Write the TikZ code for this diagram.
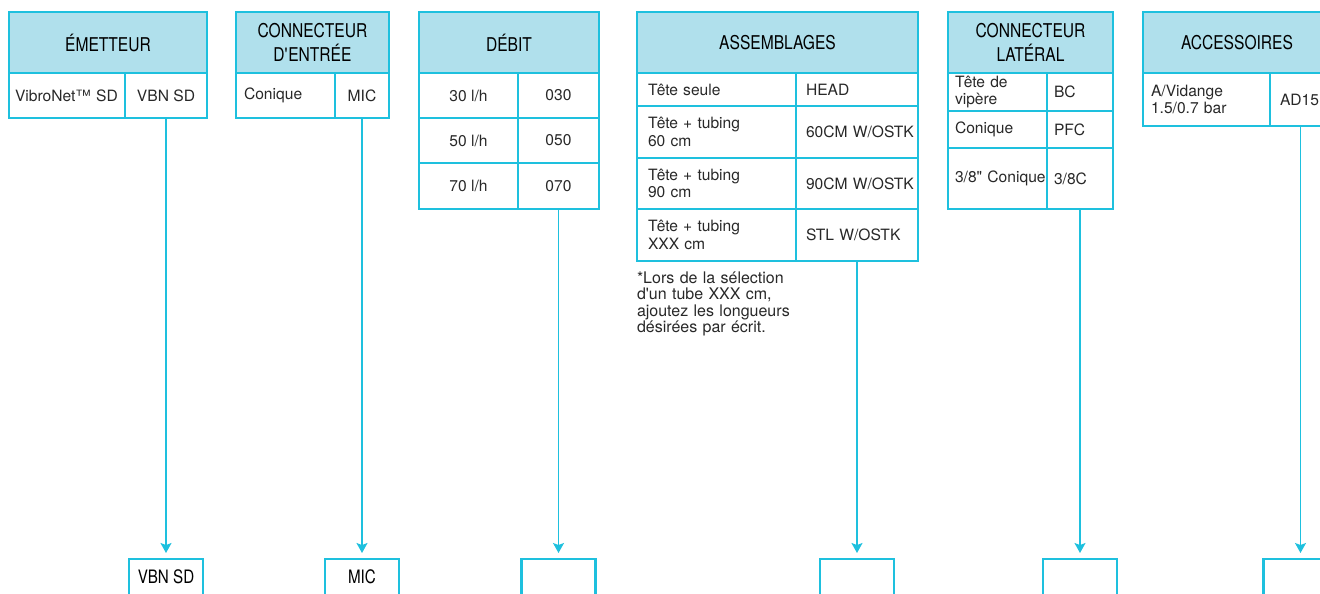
\documentclass[tikz,border=0pt]{standalone}
\usepackage{fontspec}
\setmainfont{TeX Gyre Heros}
\newfontfamily\headfont[FakeStretch=0.82]{TeX Gyre Heros}
\usetikzlibrary{arrows.meta}
\definecolor{vcyan}{RGB}{30,192,222}
\definecolor{vhead}{RGB}{176,224,236}
\definecolor{vtext}{RGB}{40,40,40}
\tikzset{
	every node/.style={inner sep=0pt,outer sep=0pt,text=vtext,font=\fontsize{15.6}{17.5}\selectfont},
	head/.style 2 args={draw=vcyan,fill=vhead,line width=1.4pt,anchor=north west,minimum width=#1,minimum height=#2,align=center,text=black,font=\headfont\fontsize{19}{23.5}\selectfont},
	cell/.style 2 args={draw=vcyan,line width=1.4pt,anchor=north west,minimum width=#1,minimum height=#2,align=center},
	lcell/.style n args={3}{cell={#1}{#2},text width=#3,align=left},
	target/.style={draw=vcyan,line width=2.6pt,anchor=north,minimum width=74pt,text height=24pt,text depth=20pt,text=black,font=\headfont\fontsize{18.5}{20}\selectfont},
	link/.style={draw=vcyan,line width=1.2pt,-{Stealth[length=10pt,width=11pt,inset=2pt]},shorten >=6pt}
	}
\begin{document}
\begin{tikzpicture}[x=1pt,y=-1pt]
	\useasboundingbox (0,0) rectangle (1320,594);
	\clip (0,0) rectangle (1320,594);
	% emetteur
	\node[head={198pt}{61pt}] (emH) at (9,12) {ÉMETTEUR};
	\node[lcell={116pt}{45pt}{104pt}] (emL) at (9,73) {VibroNet™ SD};
	\node[cell={82pt}{45pt}] (emR) at (125,73) {VBN SD};
	% connecteur d'entree
	\node[head={153pt}{61pt}] (ceH) at (236,12) {CONNECTEUR\\D\textquotesingle ENTRÉE};
	\node[lcell={99pt}{45pt}{83pt}] (ceL) at (236,73) {Conique};
	\node[cell={54pt}{45pt}] (ceR) at (335,73) {MIC};
	% debit
	\node[head={180pt}{61pt}] (dbH) at (419,12) {DÉBIT};
	\node[cell={99pt}{45pt}] (db1L) at (419,73) {30 l/h};
	\node[cell={81pt}{45pt}] (db1R) at (518,73) {030};
	\node[cell={99pt}{45pt}] (db2L) at (419,118) {50 l/h};
	\node[cell={81pt}{45pt}] (db2R) at (518,118) {050};
	\node[cell={99pt}{46pt}] (db3L) at (419,163) {70 l/h};
	\node[cell={81pt}{46pt}] (db3R) at (518,163) {070};
	% assemblages
	\node[head={281pt}{61pt}] (asH) at (637,12) {ASSEMBLAGES};
	\node[lcell={159pt}{33pt}{137pt}] (as1L) at (637,73) {Tête seule};
	\node[lcell={122pt}{33pt}{102pt}] (as1R) at (796,73) {HEAD};
	\node[lcell={159pt}{52pt}{137pt}] (as2L) at (637,106) {Tête + tubing\\60 cm};
	\node[lcell={122pt}{52pt}{102pt}] (as2R) at (796,106) {60CM~W/OSTK};
	\node[lcell={159pt}{51pt}{137pt}] (as3L) at (637,158) {Tête + tubing\\90 cm};
	\node[lcell={122pt}{51pt}{102pt}] (as3R) at (796,158) {90CM~W/OSTK};
	\node[lcell={159pt}{52pt}{137pt}] (as4L) at (637,209) {Tête + tubing\\XXX cm};
	\node[lcell={122pt}{52pt}{102pt}] (as4R) at (796,209) {STL~W/OSTK};
	\node[anchor=base west,text width=180pt,align=left,font=\fontsize{16}{16.5}\selectfont] (asNote) at (637,283)
		{*Lors de la sélection\\d\textquotesingle un tube XXX cm,\\ajoutez les longueurs\\désirées par écrit.};
	% connecteur lateral
	\node[head={165pt}{61pt}] (clH) at (948,12) {CONNECTEUR\\LATÉRAL};
	\node[lcell={99pt}{38pt}{85pt}] (cl1L) at (948,73) {Tête de\\vipère};
	\node[lcell={66pt}{38pt}{52pt}] (cl1R) at (1047,73) {BC};
	\node[lcell={99pt}{37pt}{85pt}] (cl2L) at (948,111) {Conique};
	\node[lcell={66pt}{37pt}{52pt}] (cl2R) at (1047,111) {PFC};
	\node[lcell={99pt}{61pt}{85pt}] (cl3L) at (948,148) {3/8\textquotedbl~Conique};
	\node[lcell={66pt}{61pt}{52pt}] (cl3R) at (1047,148) {3/8C};
	% accessoires
	\node[head={188pt}{61pt}] (acH) at (1143,12) {ACCESSOIRES};
	\node[lcell={127pt}{53pt}{111pt}] (acL) at (1143,73) {A/Vidange\\1.5/0.7 bar};
	\node[lcell={61pt}{53pt}{41pt}] (acR) at (1270,73) {AD15};
	% code boxes
	\node[target] (emT) at (emR.south |- 0,559) {VBN SD};
	\node[target] (ceT) at (ceR.south |- 0,559) {MIC};
	\node[target] (dbT) at (db3R.south |- 0,559) {};
	\node[target] (asT) at (as4R.south |- 0,559) {};
	\node[target] (clT) at (cl3R.south |- 0,559) {};
	\node[target] (acT) at (acR.south |- 0,559) {};
	\draw[link] (emR.south) -- (emT.north);
	\draw[link] (ceR.south) -- (ceT.north);
	\draw[link] (db3R.south) -- (dbT.north);
	\draw[link] (as4R.south) -- (asT.north);
	\draw[link] (cl3R.south) -- (clT.north);
	\draw[link] (acR.south) -- (acT.north);
\end{tikzpicture}
\end{document}
